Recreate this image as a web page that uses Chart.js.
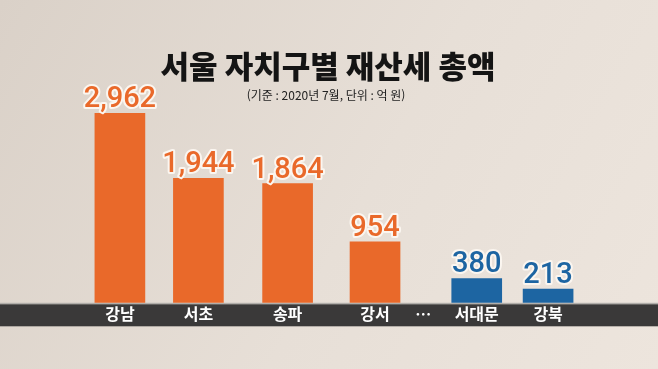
<!DOCTYPE html>
<html lang="ko">
<head>
<meta charset="utf-8">
<title>서울 자치구별 재산세 총액</title>
<script src="https://cdn.jsdelivr.net/npm/chart.js@4/dist/chart.umd.min.js"></script>
<style>
  html, body { margin: 0; padding: 0; background: #e4dcd4; }
  #wrap { width: 658px; height: 369px; position: relative; }
</style>
</head>
<body>
<div id="wrap"><canvas id="taxChart" width="658" height="369"></canvas></div>
<script>
// Data (기준 : 2020년 7월, 단위 : 억 원)
const districts = ['강남', '서초', '송파', '강서', '…', '서대문', '강북'];
const taxTotals = [2962, 1944, 1864, 954, null, 380, 213];
const groupOf = ['top', 'top', 'top', 'top', 'gap', 'low', 'low'];
// slot positions on the x axis (the original spacing is uneven)
const slots = [0, 1.1, 2.35, 3.575, 4.25, 5, 6];

const ORANGE = '#e9692a';
const BLUE = '#1d65a2';
const KR = '"Noto Sans CJK KR", "Noto Sans", sans-serif';

// Background, title and the dark label band
const backdropPlugin = {
    id: 'backdrop',
    beforeDraw(chart) {
        const { ctx, width, height, chartArea } = chart;
        ctx.save();
        const g = ctx.createLinearGradient(0, 0, width, height);
        g.addColorStop(0, '#dad1c8');
        g.addColorStop(0.55, '#e7dfd7');
        g.addColorStop(1, '#ede5dd');
        ctx.fillStyle = g;
        ctx.fillRect(0, 0, width, height);

        // label band
        const top = chartArea.bottom;
        ctx.fillStyle = '#b1aeaa';
        ctx.fillRect(0, top, width, 1.5);
        ctx.fillStyle = '#3a3939';
        ctx.fillRect(0, top + 1.5, width, 22);

        // titles
        ctx.fillStyle = '#141414';
        ctx.textAlign = 'center';
        ctx.textBaseline = 'middle';
        ctx.font = `900 31px ${KR}`;
        ctx.fillText('서울 자치구별 재산세 총액', 328, 66);
        ctx.font = `12px ${KR}`;
        ctx.fillStyle = '#222';
        ctx.fillText('(기준 : 2020년 7월, 단위 : 억 원)', 326, 95);
        ctx.restore();
    }
};

// Value labels above each bar, with a white outline
const valueLabelPlugin = {
    id: 'valueLabels',
    afterDatasetsDraw(chart) {
        const { ctx } = chart;
        const meta = chart.getDatasetMeta(0);
        ctx.save();
        ctx.textAlign = 'center';
        ctx.textBaseline = 'alphabetic';
        ctx.font = '500 29px Roboto, sans-serif';
        ctx.lineJoin = 'round';
        meta.data.forEach((bar, i) => {
            const v = taxTotals[i];
            if (v === null) return;
            const text = v.toLocaleString('en-US');
            ctx.lineWidth = 4;
            ctx.strokeStyle = '#fbf6f0';
            ctx.strokeText(text, bar.x, bar.y - 6);
            ctx.fillStyle = groupOf[i] === 'top' ? ORANGE : BLUE;
            ctx.fillText(text, bar.x, bar.y - 6);
        });
        ctx.restore();
    }
};

const ctx = document.getElementById('taxChart');
new Chart(ctx, {
    type: 'bar',
    data: {
        datasets: [{
            data: slots.map((x, i) => ({ x: x, y: taxTotals[i] })),
            backgroundColor: groupOf.map(g => g === 'top' ? ORANGE : BLUE),
            borderWidth: 0,
            barThickness: 50
        }]
    },
    options: {
        responsive: false,
        animation: false,
        layout: { padding: { top: 0, left: 0, right: 0, bottom: 43 } },
        plugins: {
            legend: { display: false },
            tooltip: { enabled: false }
        },
        scales: {
            x: {
                type: 'linear',
                offset: false,
                min: -1.68,
                max: 7.54,
                grid: { display: false, drawTicks: false, tickLength: 0 },
                border: { display: false },
                afterBuildTicks: axis => {
                    axis.ticks = slots.map(v => ({ value: v }));
                },
                ticks: {
                    autoSkip: false,
                    maxRotation: 0,
                    padding: 2,
                    color: '#ffffff',
                    font: { family: KR, size: 16, weight: 'bold' },
                    callback: (value, index) => districts[index]
                }
            },
            y: {
                display: false,
                min: 0,
                max: 4733
            }
        }
    },
    plugins: [backdropPlugin, valueLabelPlugin]
});
</script>
</body>
</html>
